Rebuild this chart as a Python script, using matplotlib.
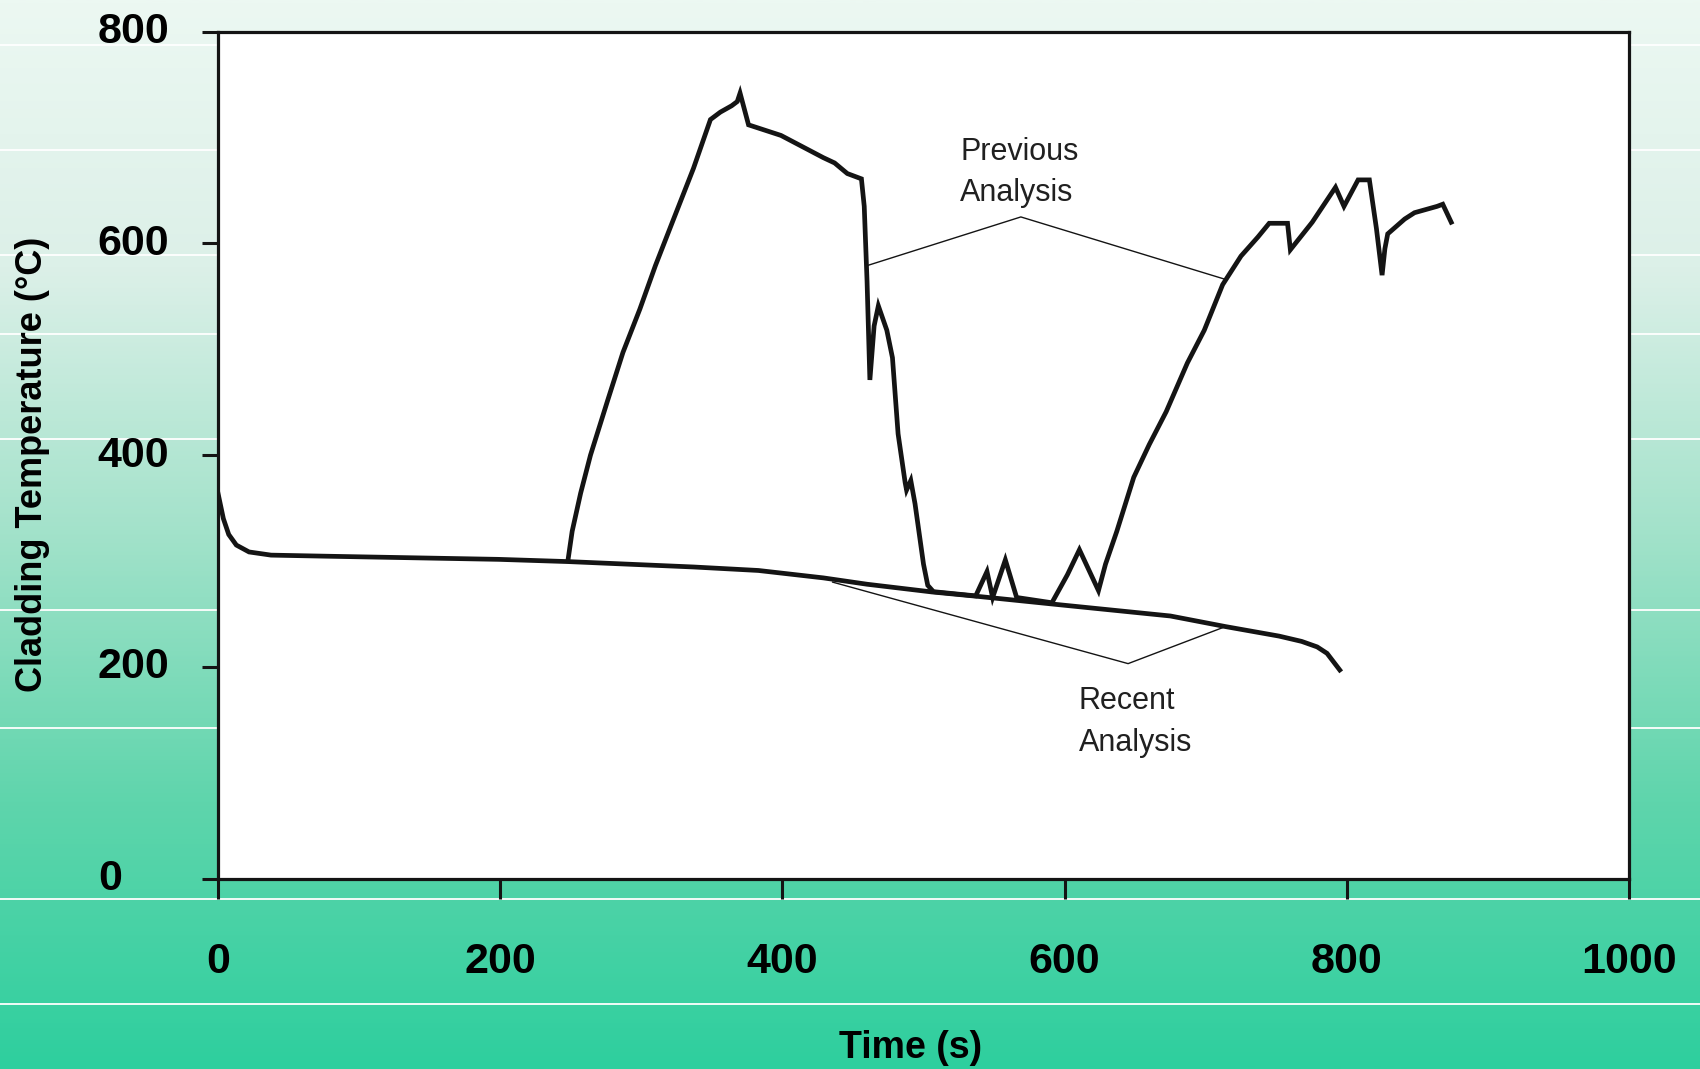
import matplotlib
matplotlib.use("Agg")
import matplotlib.pyplot as plt
import numpy as np
from matplotlib.colors import LinearSegmentedColormap
from matplotlib.transforms import ScaledTranslation

# recent analysis: time (s) vs cladding temperature (C)
recent_t = [0, 3.8, 7.6, 13, 22, 37.6, 76, 199, 248, 337, 383, 429, 460, 506,
            538, 598, 675, 714, 752, 768, 779, 786, 795]
recent_T = [364, 340, 325, 315, 308.5, 305.5, 304.5, 301.5, 299.4, 294.3, 291,
            284, 278, 270.7, 266.6, 258.4, 248, 238, 229, 224, 218.8, 212.7, 197]

# previous analysis
prev_t = [248, 251, 257, 264, 276, 287, 299, 310, 322, 337, 349, 356, 364, 368,
          370, 376, 399, 429, 437, 446, 456, 458, 460, 462, 465, 468, 474, 478,
          482, 487, 488, 491, 494, 500, 503, 507, 537, 545, 549, 558, 566, 591,
          602, 610.5, 624, 629, 637, 649, 660, 672, 687, 699, 712, 725, 737,
          745, 758, 760, 775.5, 792, 798, 808, 816, 821, 825, 827, 829, 841,
          848, 864, 868, 874]
prev_T = [300.4, 328, 364, 400, 451, 497, 538, 579, 620, 671, 717, 724, 730, 734,
          742, 712, 702, 681, 676, 666, 661, 635, 564, 471, 522, 541, 518, 492,
          420, 374, 367, 376, 354, 297, 277, 271, 267, 290, 265.5, 301, 265.5,
          260.5, 287, 310.6, 272, 297, 328, 379, 410, 441, 487, 518, 561, 588,
          606, 619, 619, 594, 620, 653, 635, 660, 660, 614, 570, 595, 609, 623,
          629, 635, 637, 620]

# leader lines (time, temperature)
prev_leader_t = [460, 569, 714]
prev_leader_T = [579, 625, 566]
recent_leader_t = [435.6, 645, 714]
recent_leader_T = [280, 203, 238]

x_ticks = [0, 200, 400, 600, 800, 1000]
y_ticks = [0, 200, 400, 600, 800]

# page background: bands of a vertical gradient split by thin white rules
band_rules_px = [45, 150, 255, 334, 439, 610, 728, 899, 1004]
bg_stops = [(0.0, "#ecf8f2"), (0.25, "#dcf0e8"), (0.5, "#a2e2ca"),
            (0.75, "#5fd5ac"), (1.0, "#2ecf9e")]

W, H = 1700, 1069
fig = plt.figure(figsize=(W / 100, H / 100), dpi=100)

bg = fig.add_axes([0, 0, 1, 1], zorder=-5)
cmap = LinearSegmentedColormap.from_list("bg", bg_stops)
grad = np.linspace(0, 1, 512).reshape(-1, 1)
bg.imshow(grad, aspect="auto", cmap=cmap, extent=[0, 1, 0, 1], origin="upper")
for py in band_rules_px:
    bg.axhline(1 - py / H, color="white", lw=1.3)
bg.set_xlim(0, 1)
bg.set_ylim(0, 1)
bg.axis("off")

left, right, top, bottom = 218, 1629, 31.7, 878.5
ax = fig.add_axes([left / W, 1 - bottom / H, (right - left) / W, (bottom - top) / H])
ax.set_facecolor("white")

ax.plot(recent_t, recent_T, color="#141414", lw=3.4, solid_joinstyle="miter")
ax.plot(prev_t, prev_T, color="#141414", lw=3.4, solid_joinstyle="miter")
ax.plot(prev_leader_t, prev_leader_T, color="#141414", lw=1.0)
ax.plot(recent_leader_t, recent_leader_T, color="#141414", lw=1.0)

ann = dict(family="Liberation Sans", fontsize=22, color="#202020",
           ha="left", va="center", linespacing=1.5)
ax.text(526, 667, "Previous\nAnalysis", **ann)
ax.text(610, 148, "Recent\nAnalysis", **ann)

ax.set_xlim(0, 1000)
ax.set_ylim(0, 800)
ax.set_xticks(x_ticks)
ax.set_yticks(y_ticks)
for sp in ax.spines.values():
    sp.set_linewidth(2.3)
    sp.set_color("#141414")

tick_font = dict(family="Liberation Sans", weight="bold", size=31)
ax.set_xticklabels([str(v) for v in x_ticks], fontdict=tick_font)
ax.set_yticklabels([str(v) for v in y_ticks], fontdict=tick_font)
ax.tick_params(axis="x", direction="out", length=14.5, width=2.2,
               color="#141414", pad=31)
ax.tick_params(axis="y", direction="out", length=11.5, width=2.2,
               color="#141414", pad=75)
shift = ScaledTranslation(0, 4 / 100, fig.dpi_scale_trans)
for lab in ax.get_yticklabels():
    lab.set_horizontalalignment("left")
    lab.set_transform(lab.get_transform() + shift)

fig.text(911 / W, 1 - 1048 / H, "Time (s)", family="Liberation Sans",
         weight="bold", size=27, ha="center", va="center")
fig.text(33 / W, 1 - 464 / H, "Cladding Temperature (°C)", family="Liberation Sans",
         weight="bold", size=26, ha="center", va="center", rotation=90)

fig.savefig("out.png", dpi=100)
